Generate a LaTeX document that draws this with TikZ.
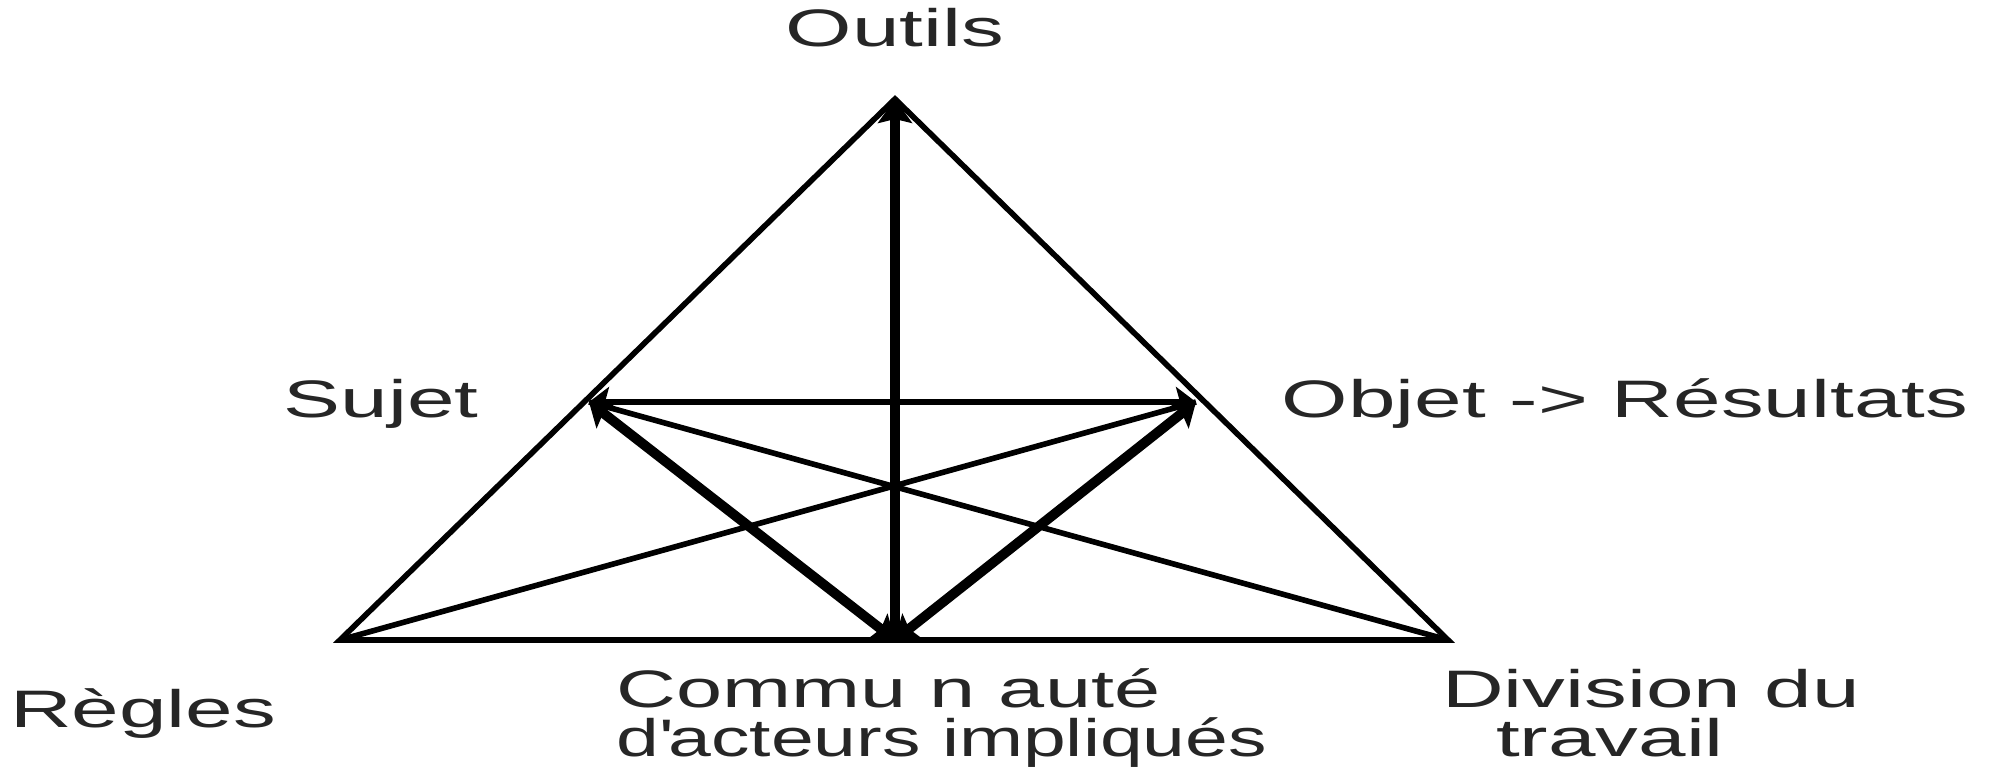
\documentclass[tikz,border=0pt]{standalone}
\usepackage{fontspec}
\setmainfont{Liberation Sans}[FakeStretch=1.62]
\usetikzlibrary{arrows.meta}
\tikzset{
  thinline/.style={line width=1.6pt, line join=miter},
  medline/.style={line width=1.8pt},
  thickline/.style={line width=2.8pt},
  lab/.style={anchor=base, inner sep=0pt, font=\fontsize{15}{18}\selectfont, text=black!85},
  tight/.style={text height=0.72em, text depth=0.2em}
}
\begin{document}
\begin{tikzpicture}[x=0.01cm,y=-0.01cm]
\useasboundingbox (0,0) rectangle (2000,768);
% points
\coordinate (A) at (895,99);
\coordinate (S) at (589,402);
\coordinate (O) at (1196,402);
\coordinate (BL) at (340,640);
\coordinate (BC) at (895,640);
\coordinate (BR) at (1448,640);
% triangle outline
\draw[thinline] (BL) -- (A) -- (BR) -- cycle;
% cross lines
\draw[thinline] (BL) -- (O);
\draw[thinline] (BR) -- (S);
% horizontal double arrow
\draw[medline, {Stealth[length=0.2cm,width=0.3cm,inset=0.04cm]}-{Stealth[length=0.2cm,width=0.3cm,inset=0.04cm]}] (S) -- (O);
% thick arrows
\draw[thickline, -{Stealth[length=0.24cm,width=0.34cm,inset=0.04cm]}] (BC) -- (A);
\draw[thickline, {Stealth[length=0.22cm,width=0.32cm,inset=0.04cm]}-{Stealth[length=0.22cm,width=0.32cm,inset=0.04cm]}] (S) -- (BC);
\draw[thickline, {Stealth[length=0.22cm,width=0.32cm,inset=0.04cm]}-{Stealth[length=0.22cm,width=0.32cm,inset=0.04cm]}] (O) -- (BC);
% labels
\node[lab] (tOutils) at (895,47) {Outils};
\node[lab] (tSujet) at (381,418) {Sujet};
\node[lab] (tObjet) at (1625,418) {Objet -> Résultats};
\node[lab] (tRegles) at (143,728) {Règles};
\node[lab, tight, anchor=base west] (tCom1) at (616,708) {\scalebox{0.97}[1]{Commu n auté}};
\node[lab, tight, anchor=base west] (tCom2) at (616,757) {\scalebox{0.9}[1]{d\textquotesingle acteurs impliqués}};
\node[lab, tight] (tDiv1) at (1651,708) {Division du};
\node[lab, tight] (tDiv2) at (1610,757) {travail};
\end{tikzpicture}
\end{document}
